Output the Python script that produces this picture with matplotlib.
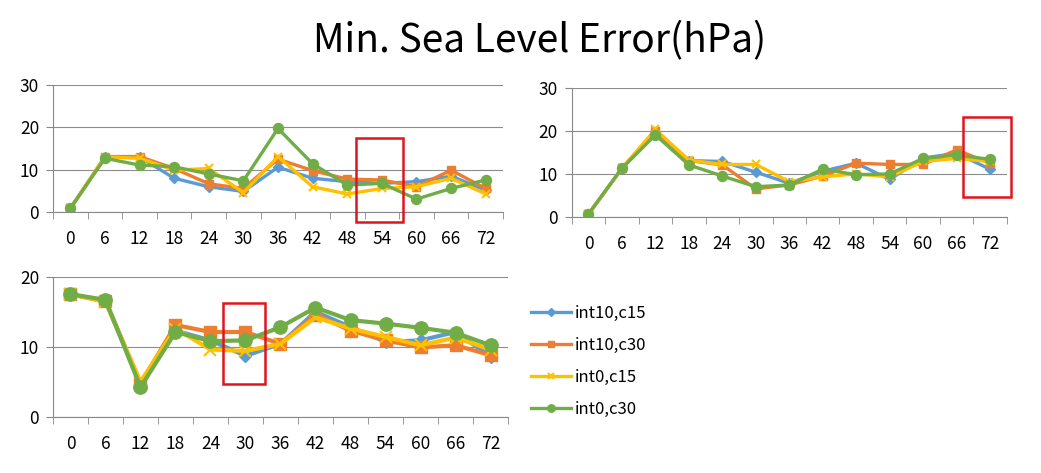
import matplotlib.pyplot as plt
from matplotlib.patches import Rectangle

plt.rcParams['font.family'] = ['Noto Sans CJK KR', 'DejaVu Sans']

hours = ['0', '6', '12', '18', '24', '30', '36', '42', '48', '54', '60', '66', '72']
names = ['int10,c15', 'int10,c30', 'int0,c15', 'int0,c30']

# panel 1 (top left)
p1_int10_c15 = [0.9, 12.9, 13.0, 8.0, 6.0, 4.9, 10.6, 8.0, 7.2, 6.8, 7.2, 8.5, 5.2]
p1_int10_c30 = [0.9, 13.1, 13.1, 10.3, 6.7, 5.6, 12.5, 9.8, 7.8, 7.6, 6.0, 9.9, 5.6]
p1_int0_c15 = [0.9, 13.0, 12.7, 9.9, 10.3, 4.6, 13.1, 6.0, 4.3, 5.6, 6.0, 8.0, 4.3]
p1_int0_c30 = [0.9, 12.7, 11.1, 10.7, 9.0, 7.4, 19.7, 11.4, 6.4, 6.8, 3.1, 5.6, 7.6]

# panel 2 (top right)
p2_int10_c15 = [0.6, 11.3, 19.5, 13.1, 12.9, 10.4, 7.8, 10.6, 12.5, 8.7, 13.7, 14.8, 11.1]
p2_int10_c30 = [0.6, 11.3, 20.1, 13.1, 12.1, 6.5, 7.4, 9.5, 12.5, 12.2, 12.2, 15.6, 12.5]
p2_int0_c15 = [0.6, 11.3, 20.4, 13.2, 12.2, 12.2, 8.2, 9.3, 10.0, 9.3, 12.9, 13.6, 12.9]
p2_int0_c30 = [0.6, 11.3, 19.1, 12.1, 9.5, 7.0, 7.4, 11.1, 9.8, 10.0, 13.6, 14.4, 13.4]

# panel 3 (bottom left)
p3_int10_c15 = [17.5, 16.5, 4.8, 12.3, 10.9, 8.7, 10.4, 15.0, 12.8, 10.7, 10.9, 12.1, 8.6]
p3_int10_c30 = [17.5, 16.5, 4.7, 13.1, 12.1, 12.1, 10.4, 14.6, 12.3, 10.9, 9.9, 10.2, 8.8]
p3_int0_c15 = [17.5, 16.4, 5.0, 12.6, 9.6, 9.4, 10.4, 14.2, 12.6, 11.4, 10.2, 11.3, 9.6]
p3_int0_c30 = [17.5, 16.7, 4.2, 12.1, 10.8, 10.9, 12.8, 15.6, 13.8, 13.3, 12.7, 12.0, 10.2]

colors = ['#5B9BD5', '#ED7D31', '#FFC000', '#70AD47']
markers = ['D', 's', 'x', 'o']


def draw_panel(ax, series, ymax, lw, ms, box):
    x = list(range(len(hours)))
    for vals, c, m, n in zip(series, colors, markers, names):
        size = ms
        if m == 'D':
            size = ms * 0.8
        if m == 'o':
            size = ms * 1.2
        ax.plot(x, vals, color=c, marker=m, markersize=size, lw=lw,
                markeredgewidth=1.5 if m == 'x' else 1, label=n)
    ax.set_xlim(-0.5, len(hours) - 0.5)
    ax.set_ylim(0, ymax)
    ax.set_yticks(range(0, ymax + 1, 10))
    ax.set_xticks(x)
    ax.set_xticklabels(hours)
    ax.set_xticks([i - 0.5 for i in range(len(hours) + 1)], minor=True)
    ax.tick_params(axis='x', which='major', length=0, pad=13, labelsize=12.5)
    ax.tick_params(axis='x', which='minor', length=5, color='#888888')
    ax.tick_params(axis='y', length=5, color='#888888', labelsize=12.5, pad=5)
    ax.grid(axis='y', color='#8c8c8c', lw=0.8)
    ax.set_axisbelow(True)
    for s in ['top', 'right']:
        ax.spines[s].set_visible(False)
    for s in ['left', 'bottom']:
        ax.spines[s].set_color('#888888')
    x0, x1, y0, y1 = box
    ax.add_patch(Rectangle((x0, y0), x1 - x0, y1 - y0, fill=False,
                           edgecolor='#E0141E', lw=1.8, clip_on=False, zorder=10))


fig = plt.figure(figsize=(10.41, 4.73), dpi=100)
fig.text(0.5185, 0.912, 'Min. Sea Level Error(hPa)', ha='center', va='center', fontsize=28)

ax1 = fig.add_axes([0.0509, 0.5512, 0.4323, 0.2698])
draw_panel(ax1, [p1_int10_c15, p1_int10_c30, p1_int0_c15, p1_int0_c30], 30, 2.4, 6,
           (8.26, 9.62, -2.35, 17.5))

ax2 = fig.add_axes([0.5492, 0.5419, 0.4179, 0.2715])
draw_panel(ax2, [p2_int10_c15, p2_int10_c30, p2_int0_c15, p2_int0_c30], 30, 2.4, 6,
           (11.2, 12.62, 4.5, 23.4))

ax3 = fig.add_axes([0.0509, 0.119, 0.4371, 0.296])
draw_panel(ax3, [p3_int10_c15, p3_int10_c30, p3_int0_c15, p3_int0_c30], 20, 3.0, 8,
           (4.36, 5.56, 4.67, 16.3))

handles, labels = ax1.get_legend_handles_labels()
fig.legend(handles, labels, loc='upper left', bbox_to_anchor=(0.496, 0.388),
           frameon=False, fontsize=12, labelspacing=0.9, handlelength=2.4,
           handletextpad=0.2, markerscale=0.75)

fig.savefig('out.png', dpi=100)
